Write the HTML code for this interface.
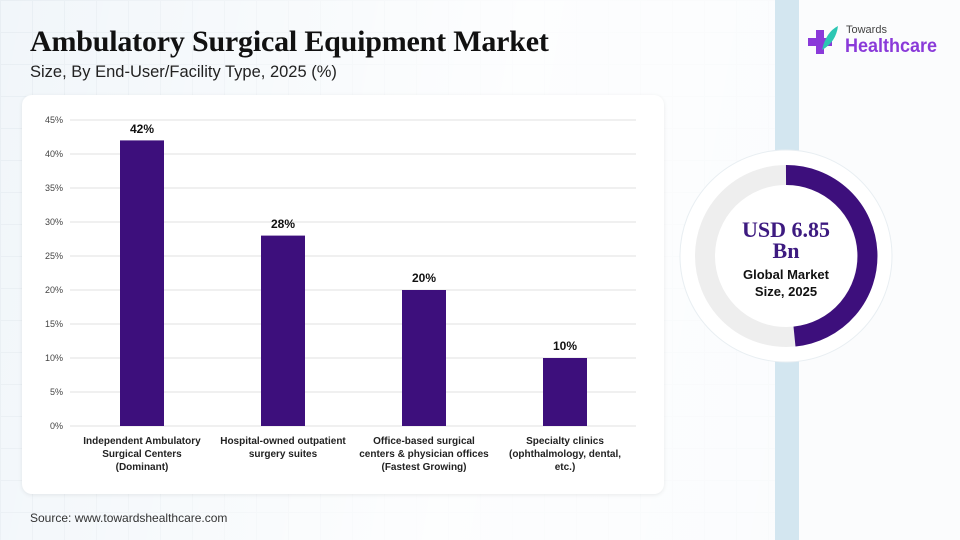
<!DOCTYPE html>
<html><head><style>
body{margin:0;width:960px;height:540px;overflow:hidden;font-family:"Liberation Sans",sans-serif;background:#f1f6fa;position:relative}
.bg{position:absolute;inset:0;background-image:linear-gradient(#e3eaf0 1px,transparent 1px),linear-gradient(90deg,#e3eaf0 1px,transparent 1px);background-size:32px 32px;opacity:.6}
.fade{position:absolute;inset:0;background:linear-gradient(100deg,rgba(255,255,255,0) 0%,rgba(255,255,255,.85) 50%,rgba(255,255,255,.6) 100%)}
.strip{position:absolute;left:775px;top:0;width:24px;height:540px;background:#d3e6f0}
.right{position:absolute;left:799px;top:0;width:161px;height:540px;background:#fbfcfd}
h1{position:absolute;left:30px;top:25px;margin:0;font-family:"Liberation Serif",serif;font-weight:bold;font-size:30px;color:#111;letter-spacing:-0.2px}
.sub{position:absolute;left:30px;top:63px;font-size:16.5px;color:#222}
.card{position:absolute;left:22px;top:95px;width:642px;height:399px;background:#fff;border-radius:10px;box-shadow:0 1px 4px rgba(0,0,0,.08)}
.src{position:absolute;left:30px;top:511px;font-size:12px;color:#333}
</style></head><body>
<div class="bg"></div><div class="fade"></div>
<div class="strip"></div><div class="right"></div>
<h1>Ambulatory Surgical Equipment Market</h1>
<div class="sub">Size, By End-User/Facility Type, 2025 (%)</div>
<div class="card"></div>
<svg width="960" height="540" style="position:absolute;left:0;top:0" font-family="Liberation Sans, sans-serif">
<g stroke="#e2e2e2" stroke-width="1">
<line x1="70" x2="636" y1="120" y2="120"/><line x1="70" x2="636" y1="154" y2="154"/><line x1="70" x2="636" y1="188" y2="188"/><line x1="70" x2="636" y1="222" y2="222"/><line x1="70" x2="636" y1="256" y2="256"/><line x1="70" x2="636" y1="290" y2="290"/><line x1="70" x2="636" y1="324" y2="324"/><line x1="70" x2="636" y1="358" y2="358"/><line x1="70" x2="636" y1="392" y2="392"/><line x1="70" x2="636" y1="426" y2="426"/>
</g>
<g font-size="9" fill="#444" text-anchor="end">
<text x="63" y="123">45%</text><text x="63" y="157">40%</text><text x="63" y="191">35%</text><text x="63" y="225">30%</text><text x="63" y="259">25%</text><text x="63" y="293">20%</text><text x="63" y="327">15%</text><text x="63" y="361">10%</text><text x="63" y="395">5%</text><text x="63" y="429">0%</text>
</g>
<g fill="#3d0f7c">
<rect x="120" y="140.4" width="44" height="285.6"/><rect x="261" y="235.6" width="44" height="190.4"/><rect x="402" y="290" width="44" height="136"/><rect x="543" y="358" width="44" height="68"/>
</g>
<g font-size="12" font-weight="bold" fill="#111" text-anchor="middle">
<text x="142" y="133">42%</text><text x="283" y="228">28%</text><text x="424" y="282">20%</text><text x="565" y="350">10%</text>
</g>
<g font-size="10" font-weight="bold" fill="#222" text-anchor="middle">
<text x="142" y="444">Independent Ambulatory</text><text x="142" y="457">Surgical Centers</text><text x="142" y="470">(Dominant)</text>
<text x="283" y="444">Hospital-owned outpatient</text><text x="283" y="457">surgery suites</text>
<text x="424" y="444">Office-based surgical</text><text x="424" y="457">centers &amp; physician offices</text><text x="424" y="470">(Fastest Growing)</text>
<text x="565" y="444">Specialty clinics</text><text x="565" y="457">(ophthalmology, dental,</text><text x="565" y="470">etc.)</text>
</g>
<circle cx="786" cy="256" r="106" fill="#fff" stroke="#e8eef2"/>
<circle cx="786" cy="256" r="81" fill="none" stroke="#eeeeee" stroke-width="20"/>
<path d="M786 175 A81 81 0 0 1 794.5 336.6" fill="none" stroke="#3d0f7c" stroke-width="20"/>
<text x="786" y="237" text-anchor="middle" font-family="Liberation Serif, serif" font-weight="bold" font-size="22" fill="#3d1a80">USD 6.85</text>
<text x="786" y="258" text-anchor="middle" font-family="Liberation Serif, serif" font-weight="bold" font-size="22" fill="#3d1a80">Bn</text>
<text x="786" y="279" text-anchor="middle" font-weight="bold" font-size="13" fill="#111">Global Market</text>
<text x="786" y="296" text-anchor="middle" font-weight="bold" font-size="13" fill="#111">Size, 2025</text>
<g>
<rect x="816" y="30" width="8" height="24" fill="#8a3ad9"/><rect x="808" y="38" width="24" height="8" fill="#8a3ad9"/>
<path d="M822 50 Q826 32 838 26 Q836 42 822 50Z" fill="#2cc6b3"/>
</g>
<text x="846" y="33" font-size="11" fill="#444">Towards</text>
<text x="845" y="52" font-size="19" font-weight="bold" fill="#8a3ad9" font-family="Liberation Sans Narrow, Liberation Sans, sans-serif" textLength="92" lengthAdjust="spacingAndGlyphs">Healthcare</text>
</svg>
<div class="src">Source: www.towardshealthcare.com</div>
</body></html>
